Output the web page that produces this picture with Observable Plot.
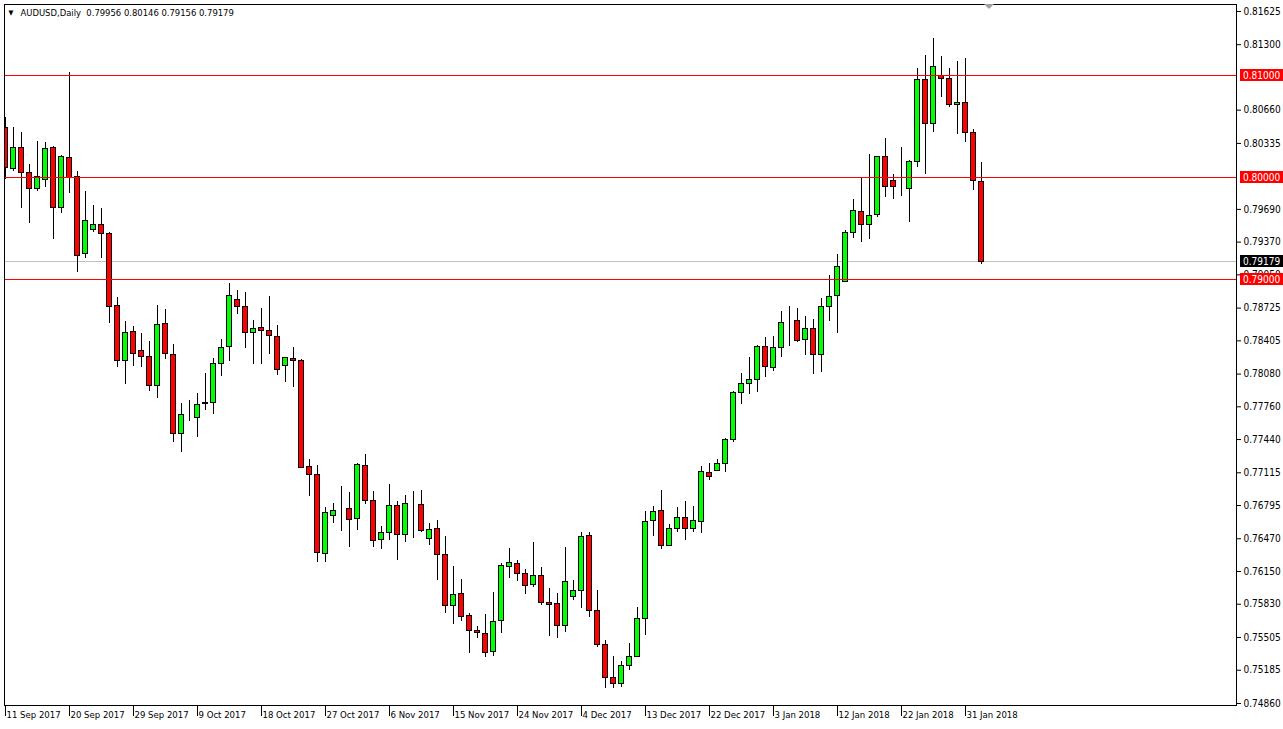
<!DOCTYPE html>
<html><head><meta charset="utf-8">
<script src="https://cdn.jsdelivr.net/npm/d3@7"></script>
<script src="https://cdn.jsdelivr.net/npm/@observablehq/plot@0.6"></script>
<style>
html,body{margin:0;padding:0;background:#fff;}
#chart{position:relative;width:1283px;height:729px;overflow:hidden;}
svg{display:block;}
</style></head><body><div id="chart"></div>
<script>
const symbolName = "AUDUSD,Daily";
const open = [
0.80481,0.80080,0.80295,0.80041,0.79885,0.79982,0.80286,0.79699,0.80188,0.80002,
0.79249,0.79493,0.79542,0.79445,0.78750,0.78212,0.78496,0.78310,0.78251,0.77968,
0.78574,0.78271,0.77498,0.77664,0.77655,0.77792,0.77801,0.78183,0.78349,0.78809,
0.78731,0.78486,0.78535,0.78506,0.78447,0.78163,0.78232,0.78212,0.77176,0.77097,
0.76325,0.76696,0.76755,0.76765,0.76667,0.77185,0.76843,0.76462,0.76530,0.76794,
0.76510,0.76823,0.76804,0.76471,0.76569,0.76315,0.75816,0.75934,0.75718,0.75572,
0.75542,0.75366,0.75669,0.76197,0.76227,0.76129,0.76021,0.76109,0.75845,0.75836,
0.75621,0.75904,0.75963,0.76501,0.75767,0.75435,0.75112,0.75053,0.75229,0.75317,
0.75689,0.76647,0.76745,0.76403,0.76569,0.76677,0.76569,0.76638,0.77117,0.77136,
0.77205,0.77440,0.77899,0.77987,0.78026,0.78349,0.78144,0.78339,0.78584,0.78603,
0.78418,0.78525,0.78271,0.78731,0.78848,0.78985,0.79464,0.79669,0.79542,0.79640,
0.80207,0.79963,0.79894,0.79885,0.80158,0.80951,0.80520,0.80990,0.80960,0.80706,
0.80726,0.80432,0.79956];
const high = [
0.80589,0.80491,0.80442,0.80129,0.80354,0.80344,0.80305,0.80217,0.81029,0.80061,
0.79865,0.79728,0.79699,0.79464,0.78828,0.78594,0.78545,0.78476,0.78398,0.78750,
0.78711,0.78369,0.77792,0.77821,0.77889,0.78085,0.78232,0.78418,0.78965,0.78897,
0.78877,0.78603,0.78721,0.78838,0.78555,0.78242,0.78339,0.78222,0.77244,0.77185,
0.76775,0.76814,0.76980,0.76921,0.77205,0.77293,0.76931,0.76589,0.76999,0.76833,
0.76892,0.76931,0.76941,0.76618,0.76647,0.76491,0.76197,0.76070,0.75738,0.75611,
0.75728,0.75943,0.76227,0.76373,0.76256,0.76168,0.76432,0.76188,0.75982,0.75934,
0.76383,0.76061,0.76530,0.76530,0.75963,0.75474,0.75317,0.75268,0.75444,0.75797,
0.76735,0.76784,0.76941,0.76608,0.76775,0.76833,0.76784,0.77176,0.77205,0.77244,
0.77449,0.77905,0.78085,0.78242,0.78359,0.78437,0.78447,0.78691,0.78740,0.78721,
0.78643,0.78613,0.78819,0.79044,0.79249,0.79484,0.79787,0.79992,0.80227,0.80207,
0.80383,0.80031,0.80295,0.80168,0.81068,0.81195,0.81361,0.81185,0.81068,0.81136,
0.81166,0.80471,0.80146];
const low = [
0.79982,0.80061,0.79699,0.79552,0.79865,0.79904,0.79396,0.79650,0.79845,0.79073,
0.79210,0.79464,0.79210,0.78574,0.78144,0.77977,0.78154,0.78144,0.77909,0.77841,
0.78222,0.77410,0.77312,0.77616,0.77459,0.77723,0.77684,0.78056,0.78202,0.78662,
0.78330,0.78173,0.78173,0.78271,0.78066,0.77997,0.77948,0.77166,0.76882,0.76236,
0.76236,0.76618,0.76540,0.76383,0.76550,0.76804,0.76383,0.76364,0.76452,0.76256,
0.76432,0.76471,0.76530,0.76403,0.76061,0.75738,0.75630,0.75660,0.75347,0.75493,
0.75307,0.75317,0.75542,0.76080,0.76051,0.75924,0.75992,0.75816,0.75513,0.75493,
0.75552,0.75865,0.75787,0.75699,0.75405,0.75004,0.75004,0.75014,0.75180,0.75307,
0.75523,0.76491,0.76364,0.76393,0.76530,0.76452,0.76530,0.76520,0.77039,0.77127,
0.77117,0.77410,0.77782,0.77880,0.77899,0.78046,0.78105,0.78242,0.78349,0.78388,
0.78261,0.78075,0.78095,0.78594,0.78476,0.78985,0.79405,0.79366,0.79396,0.79611,
0.79806,0.79787,0.79816,0.79562,0.80100,0.80031,0.80442,0.80784,0.80687,0.80423,
0.80344,0.79875,0.79156];
const close = [
0.80090,0.80295,0.80041,0.79885,0.80002,0.80276,0.79699,0.80198,0.79992,0.79239,
0.79572,0.79533,0.79445,0.78740,0.78212,0.78486,0.78281,0.78251,0.77968,0.78564,
0.78281,0.77498,0.77684,0.77664,0.77782,0.77801,0.78183,0.78339,0.78848,0.78740,
0.78486,0.78525,0.78506,0.78457,0.78124,0.78242,0.78212,0.77166,0.77097,0.76334,
0.76726,0.76745,0.76755,0.76657,0.77195,0.76843,0.76452,0.76530,0.76794,0.76510,
0.76814,0.76823,0.76550,0.76559,0.76315,0.75816,0.75924,0.75709,0.75572,0.75552,
0.75356,0.75660,0.76207,0.76236,0.76129,0.76012,0.76109,0.75845,0.75826,0.75621,
0.76051,0.75963,0.76491,0.75767,0.75435,0.75112,0.75053,0.75229,0.75317,0.75689,
0.76638,0.76735,0.76403,0.76569,0.76677,0.76569,0.76647,0.77127,0.77078,0.77205,
0.77440,0.77899,0.77987,0.78026,0.78349,0.78154,0.78339,0.78584,0.78584,0.78408,
0.78525,0.78271,0.78731,0.78838,0.79122,0.79464,0.79679,0.79542,0.79630,0.80198,
0.79904,0.79904,0.79894,0.80158,0.80951,0.80520,0.81078,0.80960,0.80706,0.80726,
0.80432,0.79963,0.79179];
const dateTickBars = [0,8,16,24,32,40,48,56,64,72,80,88,96,104,112,120];
const dateTickLabels = ["11 Sep 2017","20 Sep 2017","29 Sep 2017","9 Oct 2017","18 Oct 2017","27 Oct 2017","6 Nov 2017","15 Nov 2017","24 Nov 2017","4 Dec 2017","13 Dec 2017","22 Dec 2017","3 Jan 2018","12 Jan 2018","22 Jan 2018","31 Jan 2018"];
const priceTicks = [0.81625,0.81300,0.80660,0.80335,0.79690,0.79370,0.79050,0.78725,0.78405,0.78080,0.77760,0.77440,0.77115,0.76795,0.76470,0.76150,0.75830,0.75505,0.75185,0.74860];
const levels = [0.81000, 0.80000, 0.79000];
const lastPrice = 0.79179;

const fmt5 = d3.format(".5f");
const bars = open.map((o, i) => ({i, o, h: high[i], l: low[i], c: close[i]}));
const last = bars[bars.length - 1];
const header = `${symbolName}  ${fmt5(last.o)} ${fmt5(last.h)} ${fmt5(last.l)} ${fmt5(last.c)}`;
const FONT = "Tahoma, 'DejaVu Sans Condensed', 'Liberation Sans', Arial, sans-serif";
const crisp = {shapeRendering: "crispEdges"};

const chart = Plot.plot({
  width: 1283, height: 729,
  marginLeft: 4, marginRight: 47, marginTop: 4, marginBottom: 24,
  style: {fontFamily: FONT, fontSize: "10px", color: "#000", background: "#fff", overflow: "visible"},
  x: {type: "linear", domain: [-0.125, 153.875]},
  y: {domain: [0.74840, 0.81693]},
  marks: [
    Plot.ruleY([lastPrice], {stroke: "#c0c0c0", ...crisp}),
    Plot.ruleX(bars, {x: "i", y1: "l", y2: "h", stroke: "#000", clip: true, ...crisp}),
    Plot.rect(bars, {
      x1: d => d.i - 0.27, x2: d => d.i + 0.27, y1: "o", y2: "c",
      fill: d => d.c > d.o ? "#00ff00" : d.c < d.o ? "#ff0000" : "#000",
      stroke: "#000", clip: true, ...crisp
    }),
    Plot.ruleY(levels, {stroke: "#ff0000", ...crisp}),
    Plot.frame({stroke: "#000", ...crisp}),
    Plot.axisY({anchor: "right", ticks: priceTicks, tickFormat: fmt5, tickSize: 4, tickPadding: 3, label: null, fontSize: 10}),
    Plot.axisX({ticks: dateTickBars, tickFormat: () => "", tickSize: 11, label: null}),
    Plot.axisX({ticks: dateTickBars, tickFormat: d => dateTickLabels[dateTickBars.indexOf(d)], tickSize: 0, tickPadding: 6, textAnchor: "start", dx: 1, label: null, fontSize: 9.5}),
    Plot.text([header], {frameAnchor: "top-left", dx: 16, dy: 8, lineAnchor: "middle", fontSize: 9.4, fill: "#000"}),
    Plot.text(["▼"], {frameAnchor: "top-left", dx: 4, dy: 8, lineAnchor: "middle", fontSize: 7, fill: "#000"})
  ]
});

const svg = d3.select(chart);
const ys = chart.scale("y");
const xs = chart.scale("x");
const g = svg.append("g").attr("font-family", FONT).attr("font-size", 10).attr("text-anchor", "start");
const boxes = [...levels.map(v => ({v, bg: "#ff0000"})), {v: lastPrice, bg: "#000"}];
for (const b of boxes) {
  const yy = Math.round(ys.apply(b.v));
  g.append("rect").attr("x", 1240).attr("y", yy - 6).attr("width", 43).attr("height", 12).attr("fill", b.bg);
  g.append("text").attr("x", 1243).attr("y", yy).attr("dy", "0.35em").attr("text-anchor", "start").attr("fill", "#fff").text(fmt5(b.v));
}
// chart shift marker
const sx = xs.apply(bars.length);
svg.append("path").attr("d", `M${sx - 5},4L${sx + 5},4L${sx},9Z`).attr("fill", "#a0a0a0");
document.getElementById("chart").appendChild(chart);
</script>
</body></html>
